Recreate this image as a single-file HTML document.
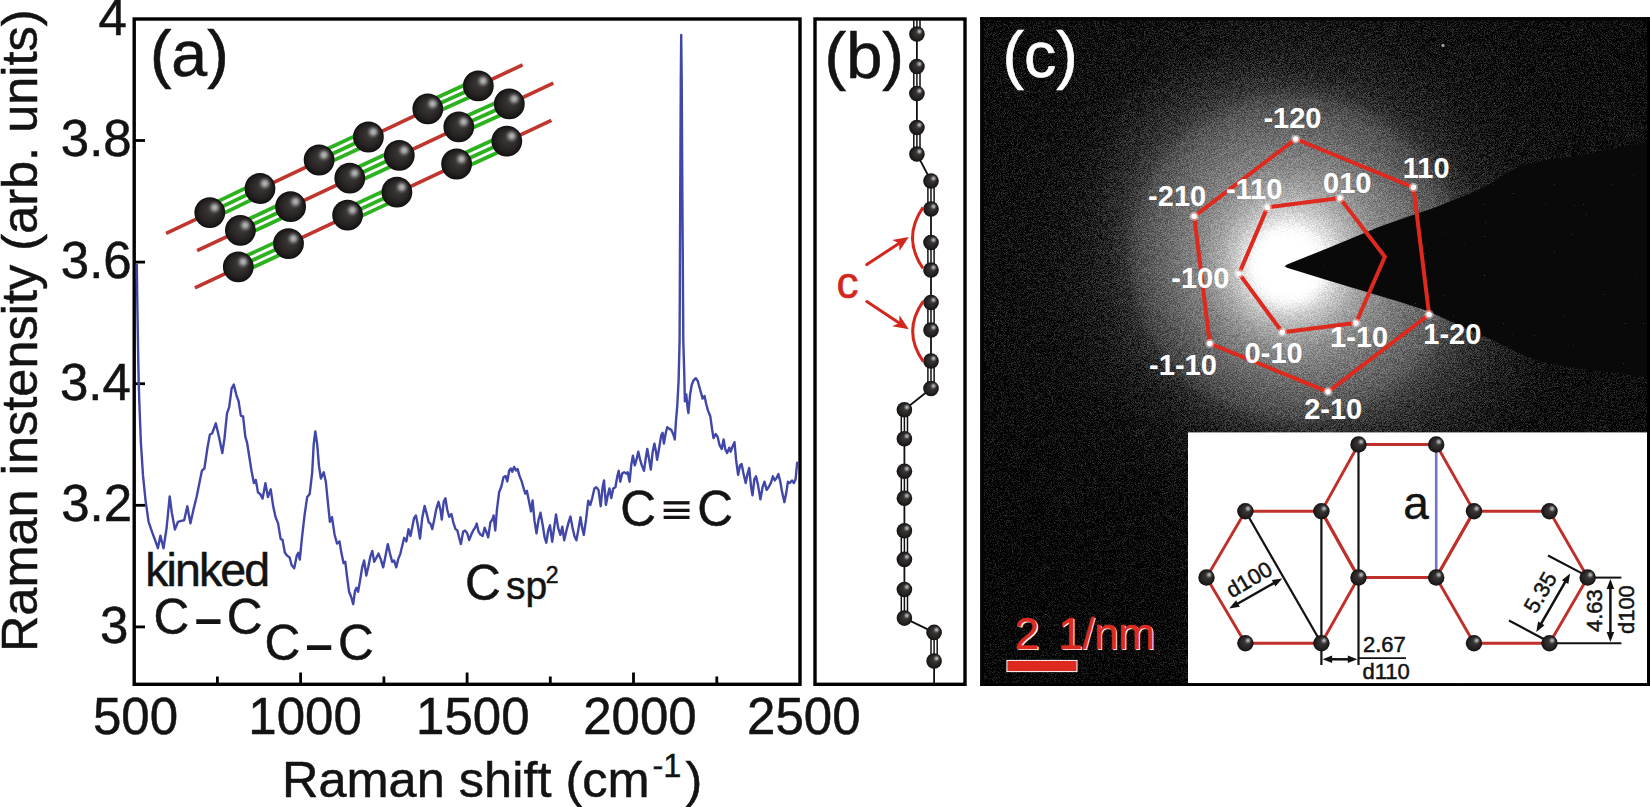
<!DOCTYPE html>
<html lang="en"><head><meta charset="utf-8"><title>Raman spectrum and electron diffraction of carbyne crystals</title>
<style>
html,body{margin:0;padding:0;background:#fff;}
body{width:1650px;height:807px;overflow:hidden;}
svg{display:block;}
text{font-family:"Liberation Sans", "DejaVu Sans", sans-serif;}
</style></head><body>
<svg width="1650" height="807" viewBox="0 0 1650 807">
<defs>
<radialGradient id="sph" cx="0.5" cy="0.5" r="0.5" fx="0.60" fy="0.38"><stop offset="0" stop-color="#454141"/><stop offset="0.35" stop-color="#353131"/><stop offset="0.7" stop-color="#272323"/><stop offset="0.9" stop-color="#1a1717"/><stop offset="1" stop-color="#0e0c0c"/></radialGradient>
<radialGradient id="shl" cx="0.5" cy="0.5" r="0.5"><stop offset="0" stop-color="#b9bbbb" stop-opacity="1"/><stop offset="0.35" stop-color="#a8a9a9" stop-opacity="0.85"/><stop offset="0.7" stop-color="#807f7f" stop-opacity="0.35"/><stop offset="1" stop-color="#605e5e" stop-opacity="0"/></radialGradient>
<g id="ball"><circle cx="0" cy="0" r="1" fill="url(#sph)"/><circle cx="0.32" cy="-0.33" r="0.47" fill="url(#shl)"/></g>
<radialGradient id="glow" gradientUnits="userSpaceOnUse" cx="1311" cy="240" fx="1287" fy="266" r="520"><stop offset="0.0000" stop-color="#fff" stop-opacity="1.000"/><stop offset="0.0538" stop-color="#fff" stop-opacity="1.000"/><stop offset="0.0712" stop-color="#fff" stop-opacity="0.940"/><stop offset="0.0885" stop-color="#fff" stop-opacity="0.840"/><stop offset="0.1096" stop-color="#fff" stop-opacity="0.720"/><stop offset="0.1346" stop-color="#fff" stop-opacity="0.600"/><stop offset="0.1731" stop-color="#fff" stop-opacity="0.475"/><stop offset="0.2115" stop-color="#fff" stop-opacity="0.400"/><stop offset="0.2500" stop-color="#fff" stop-opacity="0.335"/><stop offset="0.2885" stop-color="#fff" stop-opacity="0.282"/><stop offset="0.3038" stop-color="#fff" stop-opacity="0.252"/><stop offset="0.3269" stop-color="#fff" stop-opacity="0.172"/><stop offset="0.3654" stop-color="#fff" stop-opacity="0.114"/><stop offset="0.4423" stop-color="#fff" stop-opacity="0.060"/><stop offset="0.5000" stop-color="#fff" stop-opacity="0.042"/><stop offset="0.5769" stop-color="#fff" stop-opacity="0.028"/><stop offset="0.7692" stop-color="#fff" stop-opacity="0.018"/><stop offset="1.0000" stop-color="#fff" stop-opacity="0.010"/></radialGradient>
<radialGradient id="core" gradientUnits="userSpaceOnUse" cx="1287" cy="266" r="46"><stop offset="0" stop-color="#fff" stop-opacity="1"/><stop offset="0.55" stop-color="#fff" stop-opacity="1"/><stop offset="0.8" stop-color="#fff" stop-opacity="0.4"/><stop offset="1" stop-color="#fff" stop-opacity="0"/></radialGradient>
<radialGradient id="streak" cx="0.5" cy="0.5" r="0.5"><stop offset="0" stop-color="#fff" stop-opacity="0.16"/><stop offset="0.55" stop-color="#fff" stop-opacity="0.11"/><stop offset="0.8" stop-color="#fff" stop-opacity="0.05"/><stop offset="1" stop-color="#fff" stop-opacity="0"/></radialGradient>
<radialGradient id="dkBL" gradientUnits="userSpaceOnUse" cx="981" cy="720" r="400"><stop offset="0" stop-color="#000" stop-opacity="0.9"/><stop offset="0.5" stop-color="#000" stop-opacity="0.6"/><stop offset="1" stop-color="#000" stop-opacity="0"/></radialGradient>
<linearGradient id="dkR" gradientUnits="userSpaceOnUse" x1="1440" y1="0" x2="1650" y2="0"><stop offset="0" stop-color="#000" stop-opacity="0"/><stop offset="1" stop-color="#000" stop-opacity="0.0"/></linearGradient>
<filter id="speck" filterUnits="userSpaceOnUse" x="980" y="17" width="670" height="670" color-interpolation-filters="sRGB"><feTurbulence type="fractalNoise" baseFrequency="1.37 1.21" numOctaves="2" seed="11" result="t"/><feGaussianBlur in="t" stdDeviation="0.6" result="tb"/><feColorMatrix in="tb" type="matrix" values="2.6 0 0 0 -0.8  2.6 0 0 0 -0.8  2.6 0 0 0 -0.8  0 0 0 0 1" result="n"/><feComposite in="SourceGraphic" in2="n" operator="arithmetic" k1="-0.14" k2="1.07" k3="0.28" k4="-0.14"/></filter>
<filter id="salt" filterUnits="userSpaceOnUse" x="980" y="17" width="670" height="670" color-interpolation-filters="sRGB"><feTurbulence type="fractalNoise" baseFrequency="0.9" numOctaves="1" seed="5" result="t"/><feColorMatrix in="t" type="matrix" values="0 0 0 0 1  0 0 0 0 1  0 0 0 0 1  0 10 0 0 -7.75"/></filter>
<filter id="soft" x="-5%" y="-5%" width="110%" height="110%" color-interpolation-filters="sRGB"><feGaussianBlur stdDeviation="0.55"/></filter>
<clipPath id="cpc"><rect x="980.3" y="17.2" width="669.7" height="668.8"/></clipPath>
<clipPath id="cpa"><rect x="134.2" y="19" width="665.6" height="665.3"/></clipPath>
<marker id="ah" viewBox="0 0 10 10" refX="9.5" refY="5" markerWidth="4.4" markerHeight="4.0" orient="auto-start-reverse"><path d="M0,0.4 L10,5 L0,9.6 z" fill="#111"/></marker>
<marker id="ahr" viewBox="0 0 10 10" refX="7" refY="5" markerWidth="4.2" markerHeight="3.8" orient="auto"><path d="M0,0.5 L10,5 L0,9.5 z" fill="#d9261c"/></marker>
</defs>
<rect x="0" y="0" width="1650" height="807" fill="#fff"/>
<g clip-path="url(#cpc)">
<g filter="url(#speck)">
<rect x="980" y="17" width="670" height="670" fill="#050505"/>
<rect x="980" y="17" width="670" height="670" fill="url(#glow)"/>
<ellipse cx="0" cy="0" rx="265" ry="165" fill="url(#streak)" transform="translate(1318,262) rotate(38)"/>
<rect x="980" y="17" width="670" height="670" fill="url(#dkBL)"/>
<rect x="980" y="17" width="670" height="670" fill="url(#dkR)"/>
</g>
<rect x="980" y="17" width="670" height="670" fill="url(#core)"/>
<path d="M1284.6,266.2 L1287.0,264.6 L1330.0,247.2 L1380.0,226.6 L1400.0,219.5 L1434.8,207.4 L1460.0,197.5 L1476.9,190.6 L1492.0,182.5 L1506.4,173.7 L1519.0,167.5 L1531.6,163.2 L1550.0,159.5 L1569.5,156.9 L1610.0,149.5 L1650.0,142.0 L1650.0,378.0 L1620.0,373.5 L1590.6,369.6 L1568.0,366.5 L1548.5,363.3 L1527.4,357.0 L1502.2,344.3 L1464.2,327.5 L1426.3,310.6 L1400.0,302.0 L1380.0,295.9 L1330.0,281.0 L1287.0,267.8 Z" fill="#090909" filter="url(#soft)"/>
<rect x="980" y="17" width="670" height="670" filter="url(#salt)" opacity="0.5"/>
<circle cx="1443" cy="45.5" r="1.7" fill="#999"/>
</g>
<polygon points="1295.7,139.0 1413.5,187.3 1429.1,314.5 1328.0,391.8 1209.8,343.5 1194.2,216.3" fill="none" stroke="#de2a1e" stroke-width="4" stroke-linejoin="round"/>
<polygon points="1267.4,207.4 1339.9,198.1 1384.9,256.8 1355.9,323.0 1282.3,332.3 1239.1,273.6" fill="none" stroke="#de2a1e" stroke-width="4" stroke-linejoin="round"/>
<circle cx="1295.7" cy="139.0" r="4.6" fill="#fff" opacity="0.4"/>
<circle cx="1295.7" cy="139.0" r="2.7" fill="#fff"/>
<circle cx="1413.5" cy="187.3" r="4.6" fill="#fff" opacity="0.4"/>
<circle cx="1413.5" cy="187.3" r="2.7" fill="#fff"/>
<circle cx="1429.1" cy="314.5" r="4.6" fill="#fff" opacity="0.4"/>
<circle cx="1429.1" cy="314.5" r="2.7" fill="#fff"/>
<circle cx="1328.0" cy="391.8" r="4.6" fill="#fff" opacity="0.4"/>
<circle cx="1328.0" cy="391.8" r="2.7" fill="#fff"/>
<circle cx="1209.8" cy="343.5" r="4.6" fill="#fff" opacity="0.4"/>
<circle cx="1209.8" cy="343.5" r="2.7" fill="#fff"/>
<circle cx="1194.2" cy="216.3" r="4.6" fill="#fff" opacity="0.4"/>
<circle cx="1194.2" cy="216.3" r="2.7" fill="#fff"/>
<circle cx="1267.4" cy="207.4" r="4.6" fill="#fff" opacity="0.4"/>
<circle cx="1267.4" cy="207.4" r="2.7" fill="#fff"/>
<circle cx="1339.9" cy="198.1" r="4.6" fill="#fff" opacity="0.4"/>
<circle cx="1339.9" cy="198.1" r="2.7" fill="#fff"/>
<circle cx="1355.9" cy="323.0" r="4.6" fill="#fff" opacity="0.4"/>
<circle cx="1355.9" cy="323.0" r="2.7" fill="#fff"/>
<circle cx="1282.3" cy="332.3" r="4.6" fill="#fff" opacity="0.4"/>
<circle cx="1282.3" cy="332.3" r="2.7" fill="#fff"/>
<circle cx="1239.1" cy="273.6" r="4.6" fill="#fff" opacity="0.4"/>
<circle cx="1239.1" cy="273.6" r="2.7" fill="#fff"/>
<text x="1263.4" y="128.4" font-size="29" fill="#fff" font-weight="bold">-120</text>
<text x="1402.8" y="178.2" font-size="29" fill="#fff" font-weight="bold">110</text>
<text x="1323.0" y="193.0" font-size="29" fill="#fff" font-weight="bold">010</text>
<text x="1225.9" y="199.3" font-size="29" fill="#fff" font-weight="bold">-110</text>
<text x="1171.3" y="288.0" font-size="29" fill="#fff" font-weight="bold">-100</text>
<text x="1244.6" y="362.8" font-size="29" fill="#fff" font-weight="bold">0-10</text>
<text x="1330.1" y="347.3" font-size="29" fill="#fff" font-weight="bold">1-10</text>
<text x="1423.3" y="344.4" font-size="29" fill="#fff" font-weight="bold">1-20</text>
<text x="1149.1" y="375.2" font-size="29" fill="#fff" font-weight="bold">-1-10</text>
<text x="1304.2" y="419.0" font-size="29" fill="#fff" font-weight="bold">2-10</text>
<text x="1148.1" y="205.6" font-size="29" fill="#fff" font-weight="bold">-210</text>
<text x="1002.6" y="76.5" font-size="64.5" fill="#fff" stroke="#fff" stroke-width="0.60">(c)</text>
<text y="649.8" font-size="44.5" fill="#fff"><tspan x="1015.9">2</tspan> <tspan x="1059.2" letter-spacing="-0.6">1/nm</tspan></text>
<text y="648.6" font-size="44.5" fill="#de2a1e" stroke="#de2a1e" stroke-width="0.5"><tspan x="1014.6">2</tspan> <tspan x="1058.0" letter-spacing="-0.6">1/nm</tspan></text>
<rect x="1006.9" y="660.4" width="70.1" height="11.2" fill="#de2a1e" stroke="#fff" stroke-width="1"/>
<rect x="1188" y="432.4" width="459" height="250.8" fill="#fff"/>
<rect x="1647" y="17.2" width="3" height="668.8" fill="#000"/>
<rect x="980.3" y="683.2" width="669.7" height="2.8" fill="#000"/>
<rect x="980.3" y="17.2" width="669.7" height="3.3" fill="#040404"/>
<rect x="980.3" y="17.2" width="3.6" height="668.8" fill="#040404"/>
<polygon points="1245.4,511.3 1321.4,511.3 1358.5,577.5 1321.4,643.2 1245.4,643.2 1206.5,577.5" fill="none" stroke="#c0302a" stroke-width="2.9" stroke-linejoin="round"/>
<polygon points="1358.5,444.5 1436.2,444.5 1474.0,511.3 1436.2,577.5 1358.5,577.5 1321.4,511.3" fill="none" stroke="#c0302a" stroke-width="2.9" stroke-linejoin="round"/>
<polygon points="1474.0,511.3 1549.5,511.3 1587.7,577.5 1549.5,643.2 1474.0,643.2 1436.2,577.5" fill="none" stroke="#c0302a" stroke-width="2.9" stroke-linejoin="round"/>
<g stroke="#111" stroke-width="2.2" fill="none">
<line x1="1245.4" y1="511.3" x2="1321.4" y2="643.2"/>
<line x1="1321.4" y1="511.3" x2="1321.4" y2="665"/>
<line x1="1358.5" y1="444.5" x2="1358.5" y2="665"/>
<line x1="1358.5" y1="658.1" x2="1406" y2="658.1" stroke-width="1.7"/>
<line x1="1548" y1="555.5" x2="1582" y2="573.4"/>
<line x1="1509" y1="620.5" x2="1545" y2="639.8"/>
<line x1="1590" y1="577.6" x2="1621.4" y2="577.6" stroke-width="2"/>
<line x1="1552" y1="643.3" x2="1621.4" y2="643.3" stroke-width="2"/>
</g>
<line x1="1236.2" y1="604.5" x2="1275.3" y2="582.3" stroke="#111" stroke-width="2.5"/>
<polygon points="1282.3,578.4 1275.4,586.5 1271.8,580.1" fill="#111"/>
<polygon points="1229.2,608.4 1239.7,606.7 1236.1,600.3" fill="#111"/>
<line x1="1330.2" y1="659.3" x2="1349.7" y2="659.3" stroke="#111" stroke-width="2.5"/>
<polygon points="1357.3,659.3 1347.8,663.0 1347.8,655.6" fill="#111"/>
<polygon points="1322.6,659.3 1332.1,663.0 1332.1,655.6" fill="#111"/>
<line x1="1566.1" y1="580.3" x2="1540.3" y2="625.1" stroke="#111" stroke-width="2.5"/>
<polygon points="1536.3,632.0 1538.1,621.5 1544.5,625.2" fill="#111"/>
<polygon points="1570.1,573.4 1561.9,580.2 1568.3,583.9" fill="#111"/>
<line x1="1610.4" y1="587.0" x2="1610.4" y2="634.0" stroke="#111" stroke-width="2.5"/>
<polygon points="1610.4,642.0 1606.6,632.0 1614.2,632.0" fill="#111"/>
<polygon points="1610.4,579.0 1606.6,589.0 1614.2,589.0" fill="#111"/>
<line x1="1436.2" y1="444.5" x2="1436.2" y2="577.5" stroke="#7573c6" stroke-width="2.6"/>
<use href="#ball" transform="translate(1358.5,444.5) scale(8.20)"/>
<use href="#ball" transform="translate(1436.2,444.5) scale(8.20)"/>
<use href="#ball" transform="translate(1245.4,511.3) scale(8.20)"/>
<use href="#ball" transform="translate(1321.4,511.3) scale(8.20)"/>
<use href="#ball" transform="translate(1474.0,511.3) scale(8.20)"/>
<use href="#ball" transform="translate(1549.5,511.3) scale(8.20)"/>
<use href="#ball" transform="translate(1206.5,577.5) scale(8.20)"/>
<use href="#ball" transform="translate(1358.5,577.5) scale(8.20)"/>
<use href="#ball" transform="translate(1436.2,577.5) scale(8.20)"/>
<use href="#ball" transform="translate(1587.7,577.5) scale(8.20)"/>
<use href="#ball" transform="translate(1245.4,643.2) scale(8.20)"/>
<use href="#ball" transform="translate(1321.4,643.2) scale(8.20)"/>
<use href="#ball" transform="translate(1474.0,643.2) scale(8.20)"/>
<use href="#ball" transform="translate(1549.5,643.2) scale(8.20)"/>
<text x="1403.2" y="519.4" font-size="46" fill="#131313" stroke="#131313" stroke-width="0.40">a</text>
<text x="1363.0" y="652.4" font-size="22" fill="#131313" stroke="#131313" stroke-width="0.50">2.67</text>
<text x="1362.5" y="678.8" font-size="22" fill="#131313" stroke="#131313" stroke-width="0.50">d110</text>
<text transform="translate(1249.0,579.2) rotate(-30.5)" x="-24.6" y="7.9" font-size="22" fill="#131313" stroke="#131313" stroke-width="0.50">d100</text>
<text transform="translate(1540.2,592.4) rotate(-60.0)" x="-21.4" y="7.6" font-size="22" fill="#131313" stroke="#131313" stroke-width="0.50">5.35</text>
<text transform="translate(1594.3,611.0) rotate(-90.0)" x="-21.1" y="7.6" font-size="22" fill="#131313" stroke="#131313" stroke-width="0.50">4.63</text>
<text transform="translate(1625.6,609.5) rotate(-90.0)" x="-24.6" y="7.9" font-size="22" fill="#131313" stroke="#131313" stroke-width="0.50">d100</text>
<rect x="815" y="19" width="150" height="665.3" fill="#fff" stroke="#000" stroke-width="3.4"/>
<g stroke="#111" fill="none">
<line x1="913.8" y1="20.0" x2="913.8" y2="34.0" stroke-width="1.5"/>
<line x1="916.9" y1="20.0" x2="916.9" y2="34.0" stroke-width="1.5"/>
<line x1="920.0" y1="20.0" x2="920.0" y2="34.0" stroke-width="1.5"/>
<line x1="916.9" y1="34.0" x2="916.9" y2="66.5" stroke-width="1.8"/>
<line x1="913.8" y1="66.5" x2="913.8" y2="93.5" stroke-width="1.5"/>
<line x1="916.9" y1="66.5" x2="916.9" y2="93.5" stroke-width="1.5"/>
<line x1="920.0" y1="66.5" x2="920.0" y2="93.5" stroke-width="1.5"/>
<line x1="916.9" y1="93.5" x2="916.9" y2="127.5" stroke-width="1.8"/>
<line x1="913.8" y1="127.5" x2="913.8" y2="154.0" stroke-width="1.5"/>
<line x1="916.9" y1="127.5" x2="916.9" y2="154.0" stroke-width="1.5"/>
<line x1="920.0" y1="127.5" x2="920.0" y2="154.0" stroke-width="1.5"/>
<line x1="916.9" y1="154.0" x2="931.0" y2="181.0" stroke-width="1.8"/>
<line x1="927.9" y1="181.0" x2="927.9" y2="209.0" stroke-width="1.5"/>
<line x1="931.0" y1="181.0" x2="931.0" y2="209.0" stroke-width="1.5"/>
<line x1="934.1" y1="181.0" x2="934.1" y2="209.0" stroke-width="1.5"/>
<line x1="931.0" y1="209.0" x2="931.0" y2="242.5" stroke-width="1.8"/>
<line x1="927.9" y1="242.5" x2="927.9" y2="270.0" stroke-width="1.5"/>
<line x1="931.0" y1="242.5" x2="931.0" y2="270.0" stroke-width="1.5"/>
<line x1="934.1" y1="242.5" x2="934.1" y2="270.0" stroke-width="1.5"/>
<line x1="931.0" y1="270.0" x2="931.0" y2="302.5" stroke-width="1.8"/>
<line x1="927.9" y1="302.5" x2="927.9" y2="330.0" stroke-width="1.5"/>
<line x1="931.0" y1="302.5" x2="931.0" y2="330.0" stroke-width="1.5"/>
<line x1="934.1" y1="302.5" x2="934.1" y2="330.0" stroke-width="1.5"/>
<line x1="931.0" y1="330.0" x2="931.0" y2="361.0" stroke-width="1.8"/>
<line x1="927.9" y1="361.0" x2="927.9" y2="388.5" stroke-width="1.5"/>
<line x1="931.0" y1="361.0" x2="931.0" y2="388.5" stroke-width="1.5"/>
<line x1="934.1" y1="361.0" x2="934.1" y2="388.5" stroke-width="1.5"/>
<line x1="931.0" y1="388.5" x2="904.4" y2="409.8" stroke-width="1.8"/>
<line x1="901.3" y1="409.8" x2="901.3" y2="438.7" stroke-width="1.5"/>
<line x1="904.4" y1="409.8" x2="904.4" y2="438.7" stroke-width="1.5"/>
<line x1="907.5" y1="409.8" x2="907.5" y2="438.7" stroke-width="1.5"/>
<line x1="904.4" y1="438.7" x2="904.4" y2="471.3" stroke-width="1.8"/>
<line x1="901.3" y1="471.3" x2="901.3" y2="498.3" stroke-width="1.5"/>
<line x1="904.4" y1="471.3" x2="904.4" y2="498.3" stroke-width="1.5"/>
<line x1="907.5" y1="471.3" x2="907.5" y2="498.3" stroke-width="1.5"/>
<line x1="904.4" y1="498.3" x2="904.4" y2="530.8" stroke-width="1.8"/>
<line x1="901.3" y1="530.8" x2="901.3" y2="559.4" stroke-width="1.5"/>
<line x1="904.4" y1="530.8" x2="904.4" y2="559.4" stroke-width="1.5"/>
<line x1="907.5" y1="530.8" x2="907.5" y2="559.4" stroke-width="1.5"/>
<line x1="904.4" y1="559.4" x2="904.4" y2="589.5" stroke-width="1.8"/>
<line x1="901.3" y1="589.5" x2="901.3" y2="618.1" stroke-width="1.5"/>
<line x1="904.4" y1="589.5" x2="904.4" y2="618.1" stroke-width="1.5"/>
<line x1="907.5" y1="589.5" x2="907.5" y2="618.1" stroke-width="1.5"/>
<line x1="904.4" y1="618.1" x2="934.1" y2="632.4" stroke-width="1.8"/>
<line x1="931.0" y1="632.4" x2="931.0" y2="661.0" stroke-width="1.5"/>
<line x1="934.1" y1="632.4" x2="934.1" y2="661.0" stroke-width="1.5"/>
<line x1="937.2" y1="632.4" x2="937.2" y2="661.0" stroke-width="1.5"/>
<line x1="934.1" y1="661" x2="934.1" y2="683" stroke-width="1.8"/>
</g>
<use href="#ball" transform="translate(916.9,34.0) scale(7.80)"/>
<use href="#ball" transform="translate(916.9,66.5) scale(7.80)"/>
<use href="#ball" transform="translate(916.9,93.5) scale(7.80)"/>
<use href="#ball" transform="translate(916.9,127.5) scale(7.80)"/>
<use href="#ball" transform="translate(916.9,154.0) scale(7.80)"/>
<use href="#ball" transform="translate(931.0,181.0) scale(7.80)"/>
<use href="#ball" transform="translate(931.0,209.0) scale(7.80)"/>
<use href="#ball" transform="translate(931.0,242.5) scale(7.80)"/>
<use href="#ball" transform="translate(931.0,270.0) scale(7.80)"/>
<use href="#ball" transform="translate(931.0,302.5) scale(7.80)"/>
<use href="#ball" transform="translate(931.0,330.0) scale(7.80)"/>
<use href="#ball" transform="translate(931.0,361.0) scale(7.80)"/>
<use href="#ball" transform="translate(931.0,388.5) scale(7.80)"/>
<use href="#ball" transform="translate(904.4,409.8) scale(7.80)"/>
<use href="#ball" transform="translate(904.4,438.7) scale(7.80)"/>
<use href="#ball" transform="translate(904.4,471.3) scale(7.80)"/>
<use href="#ball" transform="translate(904.4,498.3) scale(7.80)"/>
<use href="#ball" transform="translate(904.4,530.8) scale(7.80)"/>
<use href="#ball" transform="translate(904.4,559.4) scale(7.80)"/>
<use href="#ball" transform="translate(904.4,589.5) scale(7.80)"/>
<use href="#ball" transform="translate(904.4,618.1) scale(7.80)"/>
<use href="#ball" transform="translate(934.1,632.4) scale(7.80)"/>
<use href="#ball" transform="translate(934.1,661.0) scale(7.80)"/>
<g stroke="#d3261d" stroke-width="3.0" fill="none" stroke-linecap="butt">
<path d="M923,207.3 Q902,237.9 923,268.4"/>
<path d="M923.3,301.2 Q902,331.4 923.3,361.6"/>
</g>
<line x1="866.8" y1="264.6" x2="899.2" y2="243.2" stroke="#d3261d" stroke-width="3.0" stroke-linecap="round"/>
<polygon points="908.8,236.9 899.5,250.9 899.2,243.2 892.2,239.9" fill="#d3261d"/>
<line x1="866.8" y1="301.5" x2="899.2" y2="322.9" stroke="#d3261d" stroke-width="3.0" stroke-linecap="round"/>
<polygon points="908.8,329.2 892.2,326.2 899.2,322.9 899.5,315.2" fill="#d3261d"/>
<text x="836.5" y="297.8" font-size="44" fill="#d3261d" stroke="#d3261d" stroke-width="0.60">c</text>
<text x="824.5" y="77.9" font-size="65" fill="#131313" stroke="#131313" stroke-width="0.60">(b)</text>
<rect x="134.2" y="19" width="665.8" height="665.3" fill="#fff" stroke="#000" stroke-width="3.4"/>
<g stroke="#000" stroke-width="2.8">
<line x1="135" y1="626.9" x2="145" y2="626.9"/>
<line x1="135" y1="505.3" x2="145" y2="505.3"/>
<line x1="135" y1="383.7" x2="145" y2="383.7"/>
<line x1="135" y1="262.1" x2="145" y2="262.1"/>
<line x1="135" y1="140.5" x2="145" y2="140.5"/>
<line x1="300.6" y1="684" x2="300.6" y2="672.5"/>
<line x1="467.1" y1="684" x2="467.1" y2="672.5"/>
<line x1="633.5" y1="684" x2="633.5" y2="672.5"/>
<line x1="217.4" y1="684" x2="217.4" y2="676.5"/>
<line x1="383.9" y1="684" x2="383.9" y2="676.5"/>
<line x1="550.3" y1="684" x2="550.3" y2="676.5"/>
<line x1="716.8" y1="684" x2="716.8" y2="676.5"/>
</g>
<text x="98.4" y="34.8" font-size="51" fill="#131313" stroke="#131313" stroke-width="0.50">4</text>
<text x="60.8" y="156.4" font-size="51" fill="#131313" stroke="#131313" stroke-width="0.50">3.8</text>
<text x="60.8" y="278.0" font-size="51" fill="#131313" stroke="#131313" stroke-width="0.50">3.6</text>
<text x="60.0" y="399.6" font-size="51" fill="#131313" stroke="#131313" stroke-width="0.50">3.4</text>
<text x="61.2" y="521.2" font-size="51" fill="#131313" stroke="#131313" stroke-width="0.50">3.2</text>
<text x="100.0" y="642.8" font-size="51" fill="#131313" stroke="#131313" stroke-width="0.50">3</text>
<text x="93.0" y="734.4" font-size="51" fill="#131313" stroke="#131313" stroke-width="0.50">500</text>
<text x="248.3" y="734.4" font-size="51" fill="#131313" stroke="#131313" stroke-width="0.50">1000</text>
<text x="416.1" y="734.4" font-size="51" fill="#131313" stroke="#131313" stroke-width="0.50">1500</text>
<text x="583.2" y="734.4" font-size="51" fill="#131313" stroke="#131313" stroke-width="0.50">2000</text>
<text x="747.1" y="734.4" font-size="51" fill="#131313" stroke="#131313" stroke-width="0.50">2500</text>
<text transform="translate(37.1,652.1) rotate(-90)" font-size="50.5" fill="#131313" stroke="#131313" stroke-width="0.5">Raman instensity (arb. units)</text>
<text x="282.0" y="796.5" font-size="50.5" fill="#131313" stroke="#131313" stroke-width="0.5">Raman shift (cm</text>
<text x="652.5" y="777.3" font-size="32.5" fill="#131313" stroke="#131313" stroke-width="0.40">-1</text>
<text x="685.5" y="796.5" font-size="50.5" fill="#131313" stroke="#131313" stroke-width="0.50">)</text>
<g clip-path="url(#cpa)"><polyline points="136.8,264.6 137.4,308.0 138.1,351.4 138.7,382.4 139.3,401.0 140.8,441.3 143.0,475.4 145.5,500.1 148.6,521.8 152.3,532.7 156.3,543.5 157.9,548.2 160.4,535.8 163.5,548.2 166.6,528.0 169.7,496.4 171.8,512.5 174.9,529.6 178.0,521.8 181.1,520.9 184.2,520.3 187.3,506.3 190.4,523.4 193.5,509.4 196.6,497.0 199.7,481.5 201.9,470.7 204.4,468.5 207.5,447.5 209.9,434.5 212.1,433.5 215.8,423.3 218.9,436.6 222.3,453.0 224.5,438.2 227.0,413.4 229.2,407.2 231.6,388.6 233.8,384.6 236.3,394.8 238.5,401.0 240.9,415.9 243.1,416.5 245.3,436.6 247.1,442.8 249.3,456.8 251.5,470.7 253.9,483.1 255.8,480.0 258.0,492.4 260.1,493.9 262.6,498.6 265.4,483.1 267.9,497.0 270.7,489.3 273.2,506.3 275.6,517.2 278.1,523.4 280.6,538.9 282.5,539.8 284.9,552.8 287.4,555.9 289.6,557.5 291.7,565.2 294.2,568.3 296.7,555.9 298.3,552.8 299.8,559.6 302.0,537.3 304.5,515.6 307.2,497.0 309.7,493.9 312.2,472.3 313.7,444.4 315.3,431.4 317.2,444.4 319.0,466.1 320.9,478.5 323.7,472.3 325.8,481.5 328.3,506.3 329.9,521.8 332.0,517.2 334.5,534.2 337.0,543.5 338.2,542.7 339.5,541.4 341.5,553.6 343.6,563.2 345.3,561.8 346.9,575.5 349.1,591.8 351.3,597.3 353.2,604.1 355.1,590.5 356.5,587.7 358.1,591.8 360.0,580.9 362.2,567.3 364.1,560.5 366.3,575.5 368.2,567.3 370.4,556.4 372.3,550.9 374.2,561.8 376.4,557.7 378.5,553.6 380.7,559.1 383.2,567.3 385.4,556.4 387.8,544.1 390.0,553.6 392.2,561.8 394.1,560.5 396.3,567.3 398.2,559.1 400.4,553.6 402.3,545.5 404.2,537.8 406.4,541.4 408.5,529.1 410.5,535.9 412.4,526.4 414.0,518.2 415.9,515.5 417.8,525.0 420.0,538.6 422.2,518.2 424.6,505.9 426.8,514.1 428.7,522.3 430.4,523.6 432.3,529.1 434.5,518.2 436.4,508.6 438.5,501.8 440.5,510.0 441.8,519.5 443.7,501.8 445.4,498.3 447.3,510.0 449.2,516.8 451.4,514.1 453.3,522.3 455.5,529.1 457.4,530.5 459.0,537.3 460.9,544.1 463.1,531.8 465.0,530.5 467.2,533.2 469.1,540.0 471.3,534.5 473.2,530.5 475.1,527.7 476.7,523.6 478.6,531.8 480.5,534.5 482.7,535.9 484.6,527.7 486.3,531.8 488.2,537.3 490.4,522.3 492.3,519.5 493.6,515.5 495.3,530.5 496.9,510.0 499.1,492.3 501.3,486.8 503.5,477.3 505.6,475.9 507.3,481.4 509.2,470.5 510.8,468.5 512.2,471.8 514.1,466.9 516.0,470.5 517.6,469.1 519.5,475.9 521.7,481.4 523.6,488.2 525.3,493.6 526.9,490.9 529.1,501.8 531.0,511.4 532.6,500.5 534.5,520.9 536.5,533.2 538.6,519.5 540.5,512.7 542.7,525.0 544.6,537.3 546.3,542.7 548.2,530.5 550.0,525.3 552.2,541.7 554.1,528.1 556.0,514.4 558.2,528.1 560.4,534.9 562.3,526.7 564.2,540.3 566.4,530.8 568.5,522.6 570.4,516.6 572.6,528.1 574.5,536.2 576.4,540.3 578.6,528.1 580.5,517.1 582.2,528.1 583.8,534.9 586.0,519.9 588.2,500.8 590.3,504.9 592.2,498.1 594.4,488.5 596.3,487.2 598.5,489.9 600.7,506.2 602.6,487.2 604.0,480.4 605.9,504.9 607.8,495.3 609.4,488.5 611.3,498.1 613.2,488.5 615.4,487.2 617.3,476.3 618.7,470.8 620.3,481.7 622.2,473.5 624.1,472.2 626.3,473.5 627.7,472.2 629.6,481.7 631.2,465.4 632.9,455.8 634.8,465.4 636.4,459.9 638.3,451.7 640.2,459.9 641.8,465.4 644.0,470.8 645.9,457.2 647.3,449.0 649.2,459.9 650.8,469.5 652.7,451.7 654.4,443.6 656.0,451.7 657.1,459.9 659.0,449.0 661.2,435.4 662.6,432.7 663.9,443.6 665.8,432.7 667.2,427.2 669.1,428.6 671.3,429.9 673.2,434.0 674.8,439.5 675.9,421.8 677.3,405.4 678.6,380.9 679.6,340.0 680.2,200.0 680.8,80.0 681.2,35.0 681.7,80.0 682.4,200.0 683.3,340.0 684.2,372.0 684.9,401.3 686.3,394.5 687.6,408.1 688.4,413.0 690.1,394.5 691.7,385.0 693.6,380.3 695.8,378.2 697.7,380.9 699.6,387.7 701.5,394.5 702.6,398.6 704.5,395.9 706.2,404.0 708.1,410.9 710.3,416.3 712.2,429.9 713.5,438.1 715.7,434.0 717.6,436.8 719.5,444.9 721.7,449.0 723.6,439.5 725.2,449.0 727.1,453.1 729.3,447.7 730.7,451.7 732.6,446.3 734.5,442.2 736.1,459.9 738.1,474.9 740.0,465.4 741.6,464.0 743.5,473.5 745.7,483.1 747.6,473.5 749.2,468.1 751.1,487.2 752.5,495.3 754.4,479.0 756.0,476.3 757.9,484.4 760.4,499.4 762.6,487.2 764.5,481.7 766.7,489.9 768.6,487.2 770.8,483.1 772.9,476.3 774.8,480.4 776.8,477.6 778.4,474.1 780.3,481.7 782.2,492.6 784.4,502.2 786.3,492.6 787.9,481.7 789.8,483.1 792.0,480.4 793.9,483.1 795.6,479.0 797.2,462.6" fill="none" stroke="#4047a8" stroke-width="2.4" stroke-linejoin="round" stroke-linecap="round"/></g>
<text x="145.2" y="586.3" font-size="46.5" fill="#131313" letter-spacing="-1.89" stroke="#131313" stroke-width="0.50">kinked</text>
<text x="153.5" y="634.1" font-size="49.5" fill="#131313" stroke="#131313" stroke-width="0.50">C</text>
<text x="194.8" y="634.9" font-size="49" fill="#131313" font-weight="bold">–</text>
<text x="226.7" y="634.1" font-size="49.5" fill="#131313" stroke="#131313" stroke-width="0.50">C</text>
<text x="264.5" y="660.1" font-size="49.5" fill="#131313" stroke="#131313" stroke-width="0.50">C</text>
<text x="305.5" y="661.0" font-size="49" fill="#131313" font-weight="bold">–</text>
<text x="337.9" y="660.1" font-size="49.5" fill="#131313" stroke="#131313" stroke-width="0.50">C</text>
<text x="464.9" y="599.5" font-size="49.5" fill="#131313" stroke="#131313" stroke-width="0.50">C</text>
<text x="506.0" y="598.9" font-size="39" fill="#131313" stroke="#131313" stroke-width="0.50">sp</text>
<text x="545.8" y="583.0" font-size="23" fill="#131313" stroke="#131313" stroke-width="0.50">2</text>
<text x="620.3" y="526.1" font-size="49.5" fill="#131313" stroke="#131313" stroke-width="0.50">C</text>
<text transform="translate(676.4,509.9) scale(1,0.800)" x="-15.2" y="17.2" font-size="52.5" fill="#131313" stroke="#131313" stroke-width="0.30">≡</text>
<text x="697.2" y="526.1" font-size="49.5" fill="#131313" stroke="#131313" stroke-width="0.50">C</text>
<text x="149.9" y="76.3" font-size="64.5" fill="#131313" stroke="#131313" stroke-width="0.60">(a)</text>
<line x1="166.1" y1="233.4" x2="522.6" y2="64.9" stroke="#c0352d" stroke-width="3.6"/>
<line x1="209.8" y1="212.6" x2="260.0" y2="188.5" stroke="#fff" stroke-width="5.5"/>
<line x1="207.0" y1="206.6" x2="257.1" y2="182.5" stroke="#2db21f" stroke-width="3.8"/>
<line x1="209.8" y1="212.6" x2="260.0" y2="188.5" stroke="#2db21f" stroke-width="3.8"/>
<line x1="212.6" y1="218.6" x2="262.8" y2="194.4" stroke="#2db21f" stroke-width="3.8"/>
<line x1="319.1" y1="160.0" x2="368.4" y2="137.0" stroke="#fff" stroke-width="5.5"/>
<line x1="316.3" y1="154.0" x2="365.5" y2="131.1" stroke="#2db21f" stroke-width="3.8"/>
<line x1="319.1" y1="160.0" x2="368.4" y2="137.0" stroke="#2db21f" stroke-width="3.8"/>
<line x1="321.9" y1="165.9" x2="371.2" y2="143.0" stroke="#2db21f" stroke-width="3.8"/>
<line x1="427.8" y1="108.8" x2="478.3" y2="85.9" stroke="#fff" stroke-width="5.5"/>
<line x1="425.0" y1="102.9" x2="475.5" y2="80.0" stroke="#2db21f" stroke-width="3.8"/>
<line x1="427.8" y1="108.8" x2="478.3" y2="85.9" stroke="#2db21f" stroke-width="3.8"/>
<line x1="430.7" y1="114.8" x2="481.1" y2="91.9" stroke="#2db21f" stroke-width="3.8"/>
<use href="#ball" transform="translate(209.8,212.6) scale(15.40)"/>
<use href="#ball" transform="translate(260.0,188.5) scale(15.40)"/>
<use href="#ball" transform="translate(319.1,160.0) scale(15.40)"/>
<use href="#ball" transform="translate(368.4,137.0) scale(15.40)"/>
<use href="#ball" transform="translate(427.8,108.8) scale(15.40)"/>
<use href="#ball" transform="translate(478.3,85.9) scale(15.40)"/>
<line x1="197.1" y1="250.7" x2="553.3" y2="83.1" stroke="#c0352d" stroke-width="3.6"/>
<line x1="240.4" y1="230.3" x2="290.6" y2="206.7" stroke="#fff" stroke-width="5.5"/>
<line x1="237.6" y1="224.3" x2="287.8" y2="200.8" stroke="#2db21f" stroke-width="3.8"/>
<line x1="240.4" y1="230.3" x2="290.6" y2="206.7" stroke="#2db21f" stroke-width="3.8"/>
<line x1="243.3" y1="236.2" x2="293.4" y2="212.7" stroke="#2db21f" stroke-width="3.8"/>
<line x1="349.8" y1="178.2" x2="399.3" y2="155.3" stroke="#fff" stroke-width="5.5"/>
<line x1="347.0" y1="172.3" x2="396.5" y2="149.3" stroke="#2db21f" stroke-width="3.8"/>
<line x1="349.8" y1="178.2" x2="399.3" y2="155.3" stroke="#2db21f" stroke-width="3.8"/>
<line x1="352.6" y1="184.2" x2="402.1" y2="161.3" stroke="#2db21f" stroke-width="3.8"/>
<line x1="458.8" y1="126.8" x2="509.3" y2="103.9" stroke="#fff" stroke-width="5.5"/>
<line x1="456.0" y1="120.8" x2="506.5" y2="97.9" stroke="#2db21f" stroke-width="3.8"/>
<line x1="458.8" y1="126.8" x2="509.3" y2="103.9" stroke="#2db21f" stroke-width="3.8"/>
<line x1="461.6" y1="132.8" x2="512.1" y2="109.9" stroke="#2db21f" stroke-width="3.8"/>
<use href="#ball" transform="translate(240.4,230.3) scale(15.40)"/>
<use href="#ball" transform="translate(290.6,206.7) scale(15.40)"/>
<use href="#ball" transform="translate(349.8,178.2) scale(15.40)"/>
<use href="#ball" transform="translate(399.3,155.3) scale(15.40)"/>
<use href="#ball" transform="translate(458.8,126.8) scale(15.40)"/>
<use href="#ball" transform="translate(509.3,103.9) scale(15.40)"/>
<line x1="194.9" y1="287.9" x2="551.4" y2="120.3" stroke="#c0352d" stroke-width="3.6"/>
<line x1="238.3" y1="266.8" x2="288.5" y2="243.6" stroke="#fff" stroke-width="5.5"/>
<line x1="235.5" y1="260.8" x2="285.6" y2="237.6" stroke="#2db21f" stroke-width="3.8"/>
<line x1="238.3" y1="266.8" x2="288.5" y2="243.6" stroke="#2db21f" stroke-width="3.8"/>
<line x1="241.1" y1="272.8" x2="291.3" y2="249.6" stroke="#2db21f" stroke-width="3.8"/>
<line x1="347.6" y1="215.1" x2="396.9" y2="192.2" stroke="#fff" stroke-width="5.5"/>
<line x1="344.8" y1="209.1" x2="394.1" y2="186.2" stroke="#2db21f" stroke-width="3.8"/>
<line x1="347.6" y1="215.1" x2="396.9" y2="192.2" stroke="#2db21f" stroke-width="3.8"/>
<line x1="350.4" y1="221.1" x2="399.7" y2="198.1" stroke="#2db21f" stroke-width="3.8"/>
<line x1="456.6" y1="164.0" x2="506.8" y2="141.1" stroke="#fff" stroke-width="5.5"/>
<line x1="453.8" y1="158.0" x2="504.0" y2="135.1" stroke="#2db21f" stroke-width="3.8"/>
<line x1="456.6" y1="164.0" x2="506.8" y2="141.1" stroke="#2db21f" stroke-width="3.8"/>
<line x1="459.4" y1="170.0" x2="509.6" y2="147.0" stroke="#2db21f" stroke-width="3.8"/>
<use href="#ball" transform="translate(238.3,266.8) scale(15.40)"/>
<use href="#ball" transform="translate(288.5,243.6) scale(15.40)"/>
<use href="#ball" transform="translate(347.6,215.1) scale(15.40)"/>
<use href="#ball" transform="translate(396.9,192.2) scale(15.40)"/>
<use href="#ball" transform="translate(456.6,164.0) scale(15.40)"/>
<use href="#ball" transform="translate(506.8,141.1) scale(15.40)"/>
</svg></body></html>
